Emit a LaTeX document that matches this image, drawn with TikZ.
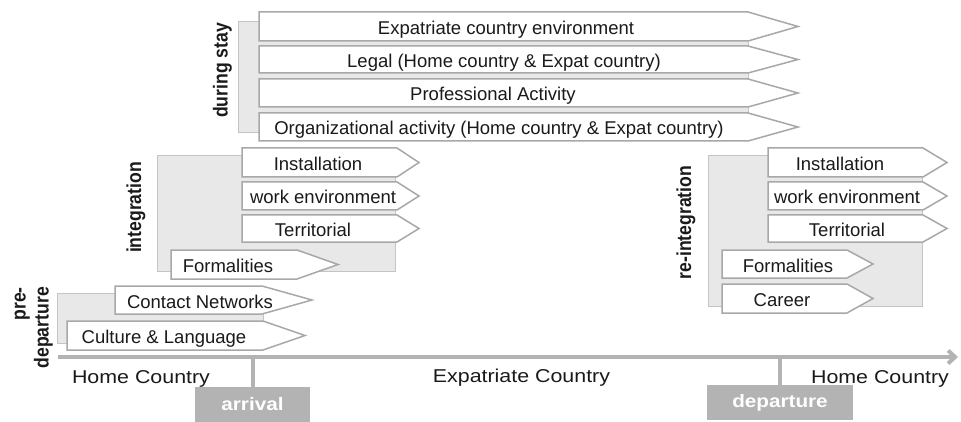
\documentclass[tikz,border=0pt]{standalone}
\usepackage{fontspec}
\setmainfont{Liberation Sans}
\usetikzlibrary{arrows.meta}
\definecolor{boxgray}{HTML}{A8A8A8}
\definecolor{grpfill}{HTML}{E8E8E8}
\definecolor{grpline}{HTML}{C4C4C4}
\definecolor{tlgray}{HTML}{B3B3B3}
\definecolor{txt}{HTML}{1A1A1A}
\tikzset{
  grp/.style={fill=grpfill, draw=grpline, line width=0.8},
  abox/.style={fill=white, draw=boxgray, line width=1.5, line join=miter},
  btext/.style={anchor=base, inner sep=0, text=txt, font=\fontsize{18.5}{20}\selectfont},
  side/.style={rotate=90, inner sep=0, text=txt, font=\bfseries\fontsize{17.6}{20}\selectfont},
  tlabel/.style={anchor=base, inner sep=0, text=txt, font=\fontsize{18.6}{20}\selectfont},
  tline/.style={draw=tlgray, line width=4},
  markbox/.style={fill=tlgray, inner sep=0, minimum height=35, text=white, font=\bfseries\fontsize{18}{20}\selectfont},
}
\newcommand\ArrowBox[8]{% name, left, top, bottom, bodyend, tip, textx, text
  \path[abox] (#2,#3) -- (#5,#3) -- (#6,{(#3+#4)/2}) -- (#5,#4) -- (#2,#4) -- cycle;
  \node[btext] (#1) at (#7,{(#3+#4)/2+8}) {#8};
}
\begin{document}
\begin{tikzpicture}[x=1pt,y=-1pt]
\useasboundingbox (0,0) rectangle (961,422);
\fill[white] (0,0) rectangle (961,422);

% during stay
\path[grp] (238,21) rectangle (748,132);
\ArrowBox{e1}{259}{12}{41}{748}{798}{506}{Expatriate country environment}
\ArrowBox{e2}{259}{46}{73}{748}{798}{504}{Legal (Home country \& Expat country)}
\ArrowBox{e3}{259}{79}{107}{748}{798}{493}{Professional Activity}
\ArrowBox{e4}{259}{113}{141}{748}{798}{499}{Organizational activity (Home country \& Expat country)}
\node[side] (lstay) at (222.5,70.5) {\scalebox{1}[1.15]{during stay}};

% integration
\path[grp] (157,155) rectangle (395,271);
\ArrowBox{i1}{242}{148}{177}{397}{419}{318}{Installation}
\ArrowBox{i2}{242}{182}{210}{397}{419}{323}{work environment}
\ArrowBox{i3}{242}{215}{242}{397}{419}{313}{Territorial}
\ArrowBox{i4}{171}{250}{279}{297}{338}{228}{Formalities}
\node[side] (lint) at (136,207.5) {\scalebox{1}[1.15]{integration}};

% re-integration
\path[grp] (708,155) rectangle (922,306);
\ArrowBox{r1}{768}{148}{177}{923}{947}{840}{Installation}
\ArrowBox{r2}{768}{182}{210}{923}{947}{847}{work environment}
\ArrowBox{r3}{768}{215}{242}{923}{947}{847}{Territorial}
\ArrowBox{r4}{722}{250}{278}{847}{873}{788}{Formalities}
\ArrowBox{r5}{722}{284}{313}{847}{873}{782}{Career}
\node[side] (lreint) at (686,222.5) {\scalebox{1}[1.15]{re-integration}};

% pre-departure
\path[grp] (57,293) rectangle (263,343);
\ArrowBox{p1}{115}{286}{314}{262}{312}{200}{Contact Networks}
\ArrowBox{p2}{67}{321}{350}{263}{305}{164}{Culture \& Language}
\node[side, anchor=east] (lpre) at (32.5,287) {\scalebox{1}[1.15]{\begin{tabular}{@{}r@{}}pre-\\departure\end{tabular}}};

% timeline
\coordinate (tl0) at (58,357);
\coordinate (tl1) at (958,357);
\draw[tline, -{Straight Barb[length=7,width=13]}] (tl0) -- (tl1);
\node[markbox, minimum width=115] (arrival) at (252.5,404.5) {\scalebox{1.15}[1]{arrival}};
\node[markbox, minimum width=146] (departure) at (780,402.5) {\scalebox{1.15}[1]{departure}};
\draw[tline] (arrival.north) -- (arrival.north |- tl0);
\draw[tline] (departure.north) -- (departure.north |- tl0);
\node[tlabel] (home1) at (141,383) {\scalebox{1.15}[1]{Home Country}};
\node[tlabel] (expat) at (521.5,382) {\scalebox{1.15}[1]{Expatriate Country}};
\node[tlabel] (home2) at (880,383) {\scalebox{1.15}[1]{Home Country}};
\end{tikzpicture}
\end{document}
